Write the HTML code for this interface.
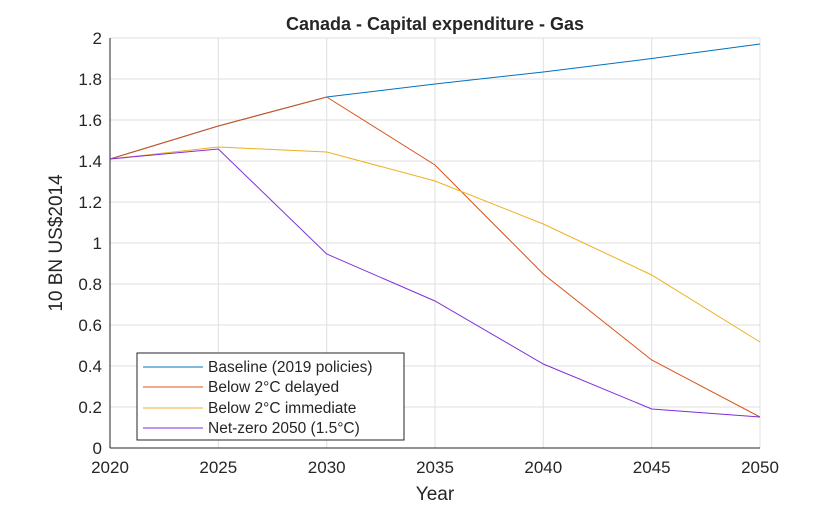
<!DOCTYPE html>
<html><head><meta charset="utf-8"><style>body{margin:0;background:#fff}svg{font-family:"Liberation Sans",Arial,sans-serif}</style></head><body>
<svg width="840" height="506" viewBox="0 0 840 506" xmlns="http://www.w3.org/2000/svg">
<rect width="840" height="506" fill="#fff"/>
<g stroke="#dfdfdf" stroke-width="1">
<line x1="218.3" y1="38" x2="218.3" y2="448"/><line x1="326.7" y1="38" x2="326.7" y2="448"/><line x1="435" y1="38" x2="435" y2="448"/><line x1="543.3" y1="38" x2="543.3" y2="448"/><line x1="651.7" y1="38" x2="651.7" y2="448"/>
<line x1="110" y1="407" x2="760" y2="407"/><line x1="110" y1="366" x2="760" y2="366"/><line x1="110" y1="325" x2="760" y2="325"/><line x1="110" y1="284" x2="760" y2="284"/><line x1="110" y1="243" x2="760" y2="243"/><line x1="110" y1="202" x2="760" y2="202"/><line x1="110" y1="161" x2="760" y2="161"/><line x1="110" y1="120" x2="760" y2="120"/><line x1="110" y1="79" x2="760" y2="79"/>
<line x1="110" y1="38" x2="760" y2="38"/><line x1="760" y1="38" x2="760" y2="448"/>
</g>
<line x1="110" y1="38" x2="110" y2="448" stroke="#262626"/>
<line x1="110" y1="448" x2="760" y2="448" stroke="#262626"/>
<g fill="none" stroke-width="1">
<polyline stroke="#0072bd" points="110,159 218.3,126 326.7,97 435,84 543.3,72 651.7,58.5 760,44"/>
<polyline stroke="#d95319" points="110,159 218.3,126 326.7,97 435,165 543.3,274 651.7,360 760,417"/>
<polyline stroke="#edb120" points="110,159 218.3,147 326.7,152 435,181 543.3,224 651.7,275 760,342"/>
<polyline stroke="#7e2fdb" points="110,159 218.3,149 326.7,254 435,301 543.3,364 651.7,409 760,417"/>
</g>
<g font-size="17" fill="#262626" text-anchor="middle">
<text x="110" y="473">2020</text><text x="218.3" y="473">2025</text><text x="326.7" y="473">2030</text><text x="435" y="473">2035</text><text x="543.3" y="473">2040</text><text x="651.7" y="473">2045</text><text x="760" y="473">2050</text>
</g>
<g font-size="17" fill="#262626" text-anchor="end">
<text x="102" y="454">0</text><text x="102" y="413">0.2</text><text x="102" y="372">0.4</text><text x="102" y="331">0.6</text><text x="102" y="290">0.8</text><text x="102" y="249">1</text><text x="102" y="208">1.2</text><text x="102" y="167">1.4</text><text x="102" y="126">1.6</text><text x="102" y="85">1.8</text><text x="102" y="44">2</text>
</g>
<text x="435" y="500" font-size="19" fill="#262626" text-anchor="middle">Year</text>
<text transform="translate(62,243) rotate(-90)" font-size="19" fill="#262626" text-anchor="middle">10 BN US$2014</text>
<text x="435" y="30" font-size="18" font-weight="bold" fill="#262626" text-anchor="middle">Canada - Capital expenditure - Gas</text>
<rect x="137" y="353" width="267" height="87" fill="#fff" stroke="#262626" stroke-width="1"/>
<g font-size="15.5" fill="#262626">
<line x1="143" y1="367" x2="203" y2="367" stroke="#0072bd"/><text x="208" y="372">Baseline (2019 policies)</text>
<line x1="143" y1="387" x2="203" y2="387" stroke="#d95319"/><text x="208" y="392">Below 2°C delayed</text>
<line x1="143" y1="408" x2="203" y2="408" stroke="#edb120"/><text x="208" y="413">Below 2°C immediate</text>
<line x1="143" y1="428" x2="203" y2="428" stroke="#7e2fdb"/><text x="208" y="433">Net-zero 2050 (1.5°C)</text>
</g>
</svg>
</body></html>
